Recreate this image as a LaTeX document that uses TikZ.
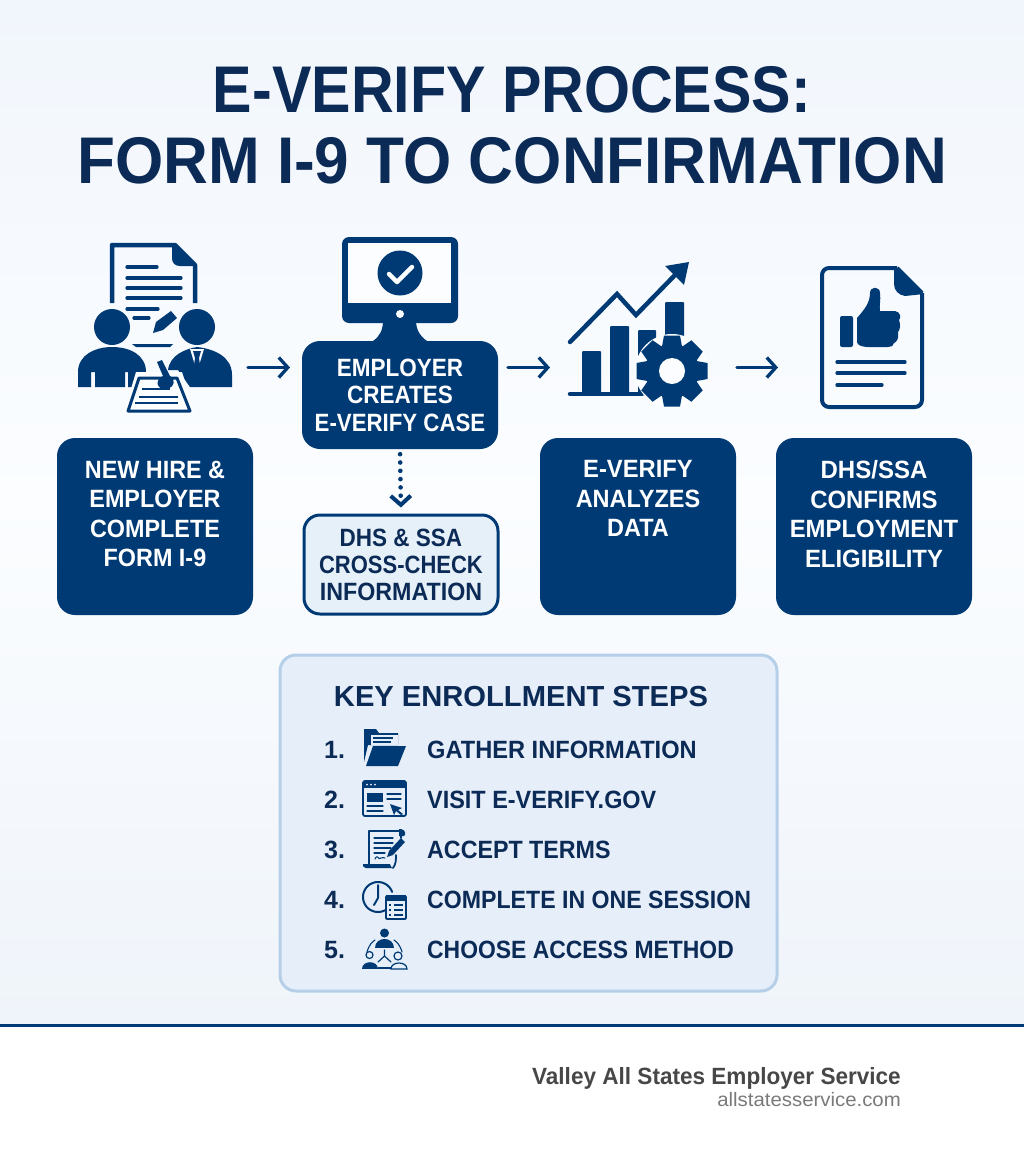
\documentclass[tikz,border=0pt]{standalone}
\usepackage{fontspec}
\setmainfont{Liberation Sans}
\usetikzlibrary{arrows.meta,calc}
\definecolor{navy}{HTML}{003A75}
\definecolor{ink}{HTML}{0B2A55}
\definecolor{bgA}{HTML}{F1F6FC}
\definecolor{bgB}{HTML}{FBFDFF}
\definecolor{bgC}{HTML}{EFF4FA}
\definecolor{panelfill}{HTML}{E5EEF9}
\definecolor{panelline}{HTML}{B5CFE8}
\definecolor{softfill}{HTML}{E6F0F9}
\newcommand{\fs}[2]{\fontsize{#1}{#2}\selectfont\bfseries}
\newcommand{\sx}[2]{\scalebox{#1}[1]{#2}}
\tikzset{
 darkbox/.style={fill=navy,rounded corners=18pt,minimum width=196pt,text=white,align=center,inner sep=0pt,font=\fs{25}{29.5}},
 flow/.style={navy,line width=3.3pt,line cap=round,-{Straight Barb[length=9pt,width=20pt,line width=3.3pt]}},
 stepnum/.style={anchor=west,text=ink,font=\fs{25}{30},inner sep=0pt},
 steptext/.style={anchor=west,text=ink,font=\fs{25}{30},inner sep=0pt},
 ln/.style={navy,line width=3.2pt,line cap=round},
 thin/.style={navy,line width=1.8pt,line cap=round,line join=round},
}
\begin{document}
\begin{tikzpicture}[x=1pt,y=-1pt]
\useasboundingbox (0,0) rectangle (1024,1154);
% background
\shade[top color=bgA,bottom color=bgB] (0,0) rectangle (1024,500);
\shade[top color=bgB,bottom color=bgC] (0,500) rectangle (1024,1026);
\fill[white] (0,1026) rectangle (1024,1154);
\fill[navy] (0,1024) rectangle (1024,1027);
% title
\node[text=ink,font=\fs{66}{71},align=center,inner sep=0pt] (title) at (512,125) {\sx{0.896}{E-VERIFY PROCESS:}\\\sx{0.94}{FORM I-9 TO CONFIRMATION}};
% boxes
\node[darkbox,minimum height=177pt] (b1) at (155,526.5) {\sx{.935}{NEW HIRE \&}\\\sx{.935}{EMPLOYER}\\\sx{.935}{COMPLETE}\\\sx{.935}{FORM I-9}\\[-4pt]};
\node[darkbox,minimum height=108pt,font=\fs{25}{27.5}] (b2) at (400,395) {\sx{.9}{EMPLOYER}\\\sx{.9}{CREATES}\\\sx{.89}{E-VERIFY CASE}};
\node[draw=navy,line width=3pt,fill=softfill,rounded corners=16pt,minimum width=194pt,minimum height=99pt,inner sep=0pt,align=center,text=ink,font=\fs{25}{27}] (b3) at (401,564.5) {\sx{.9}{DHS \& SSA}\\\sx{.88}{CROSS-CHECK}\\\sx{.93}{INFORMATION}};
\node[darkbox,minimum height=177pt] (b4) at (638,526.5) {\sx{.95}{E-VERIFY}\\\sx{.94}{ANALYZES}\\\sx{.94}{DATA}\\[26.5pt]};
\node[darkbox,minimum height=177pt] (b5) at (874,526.5) {\sx{.96}{DHS/SSA}\\\sx{.955}{CONFIRMS}\\\sx{.955}{EMPLOYMENT}\\\sx{.955}{ELIGIBILITY}\\[-4pt]};
% connectors
\coordinate (i1) at (248,367.5); \coordinate (i2) at (290,367.5);
\coordinate (i3) at (508,367.5); \coordinate (i4) at (550,367.5);
\coordinate (i5) at (737,367.5); \coordinate (i6) at (778,367.5);
\draw[flow] (i1) -- (i2);
\draw[flow] (i3) -- (i4);
\draw[flow] (i5) -- (i6);
\draw[navy,line width=4.6pt,line cap=round,dash pattern=on 0pt off 8.3pt,-{Straight Barb[length=9pt,width=20pt,line width=4pt]},shorten <=5pt,shorten >=6pt] (b2.south) -- (b3.north);
% icon 1
\draw[navy,line width=4.5pt,line join=round] (112,303) -- (112,245) -- (175,245) -- (195,265) -- (195,303);
\fill[navy] (172,243) -- (197,266) -- (180,266) .. controls (175,266) and (172,263) .. (172,258) -- cycle;
\foreach \yy/\xa/\xb in {267/127/157,278/127/181,288/127/181,298/127/181,309/127/158,318/134/149}{\draw[ln] (\xa,\yy) -- (\xb,\yy);}
\fill[navy] (153,333) -- (156,322) -- (171,311) -- (177,318) -- (163,330) -- cycle;
\fill[navy] (132,344) -- (173,344) -- (170,347) -- (136,347) -- cycle;
\fill[navy] (112,327) circle (18);
\fill[navy] (197,327) circle (18);
\fill[navy] (78,387) -- (78,372) .. controls (78,355) and (95,347) .. (112,347) .. controls (130,347) and (146,355) .. (146,372) -- (146,387) -- (128,387) -- (128,372) -- (125,372) -- (125,387) -- (95,387) -- (95,372) -- (91,372) -- (91,387) -- cycle;
\fill[navy] (168,370) .. controls (170,355) and (185,349) .. (197,347) .. controls (215,349) and (232,357) .. (232,375) -- (232,387) -- (190,387) -- (178,370) -- cycle;
\fill[bgB] (190,349) -- (204,349) -- (197,372) -- cycle;
\fill[navy] (193,351) -- (201,351) -- (199,358) -- (201,372) -- (197,375) -- (193,372) -- (195,358) -- cycle;
\fill[bgB] (124,412) -- (136,372) -- (182,372) -- (195,412) -- cycle;
\draw[navy,line width=3pt,line join=round] (128,411) -- (139,378) -- (177,378) -- (190,411) -- cycle;
\foreach \yy/\xa/\xb in {389/142/170,397/139/178,403/135/178}{\draw[navy,line width=2.4pt] (\xa,\yy) -- (\xb,\yy);}
\fill[navy] (157,362) -- (162,360) -- (170,376) .. controls (176,378) and (175,388) .. (166,389) .. controls (157,390) and (154,380) .. (163,376) -- cycle;
% icon 2
\fill[navy] (383,320) -- (416,320) .. controls (416,330) and (420,336) .. (427,341) -- (373,341) .. controls (380,336) and (383,330) .. (383,320) -- cycle;
\fill[navy,rounded corners=7pt] (342,237) rectangle (458,323);
\fill[bgB] (348,243) rectangle (451,303);
\fill[navy] (400,273) circle (22.5);
\draw[bgB,line width=4.5pt,line cap=round,line join=round] (389,274) -- (397,282) -- (412,267);
\fill[bgB] (400,314) circle (4);
% icon 3
\draw[navy,line width=4.5pt,line cap=round,line join=miter] (570,342) -- (617,294) -- (636,315) -- (676,274);
\fill[navy] (689,262) -- (684,285) -- (665,266) -- cycle;
\fill[navy,rounded corners=1pt] (582,351) rectangle (601,395);
\fill[navy,rounded corners=1pt] (610,326) rectangle (629,395);
\fill[navy,rounded corners=1pt] (638,330) rectangle (656,395);
\fill[navy,rounded corners=1pt] (665,302) rectangle (684,345);
\draw[navy,line width=4.5pt,line cap=round] (570,394) -- (642,394);
\coordinate (gc) at (672,371);
\fill[bgB] (gc) circle (37);
\foreach \a in {0,45,...,315}{
 \fill[navy,rotate around={\a:(gc)}] (664,335.5) -- (680,335.5) -- (683,352) -- (661,352) -- cycle;}
\fill[navy] (gc) circle (27);
\fill[bgB] (gc) circle (13);
% icon 4
\draw[navy,line width=4pt,line join=round,rounded corners=7pt] (897,268) -- (822,268) -- (822,407) -- (922,407) -- (922,293);
\draw[navy,line width=4pt,line join=round] (897,268) -- (922,293);
\fill[navy] (894,267) -- (924,294) -- (905,296) .. controls (899,295) and (894,291) .. (894,284) -- cycle;
\fill[navy,rounded corners=2pt] (840,316) rectangle (853,347);
\fill[navy] (857,318) .. controls (864,310) and (870,303) .. (870,293) .. controls (870,286) and (880,286) .. (880,293) .. controls (881,300) and (879,306) .. (880,311) -- (895,311) .. controls (901,312) and (901,318) .. (899,320) .. controls (901,325) and (900,330) .. (898,332) .. controls (899,338) and (897,342) .. (894,343) .. controls (894,346) and (891,347) .. (888,347) -- (868,347) .. controls (862,347) and (857,345) .. (857,342) -- cycle;
\foreach \yy/\xb in {362/905,373/905,385/882}{\draw[ln] (837,\yy) -- (\xb,\yy);}
% panel
\node[draw=panelline,line width=3pt,fill=panelfill,rounded corners=16pt,minimum width=497pt,minimum height=336pt,inner sep=0pt] (panel) at (528.5,823) {};
\node[text=ink,font=\fs{29}{34},inner sep=0pt] (ptitle) at (521,697) {\sx{1.005}{KEY ENROLLMENT STEPS}};
\foreach \n/\yy/\tt/\sc in {1/750/GATHER INFORMATION/.945,2/800/VISIT E-VERIFY.GOV/.937,3/850/ACCEPT TERMS/.93,4/900/COMPLETE IN ONE SESSION/.925,5/950/CHOOSE ACCESS METHOD/.916}{
 \node[stepnum] (n\n) at (324,\yy) {\n.};
 \node[steptext] (s\n) at (427,\yy) {\sx{\sc}{\tt}};
}
% small icon 1: folder
\fill[navy] (364,729) -- (376,729) -- (379,733) -- (398,733) -- (398,745) -- (368,745) -- (364,762) -- cycle;
\fill[panelfill] (371,735) rectangle (398,745);
\draw[navy,line width=1.3pt] (373,738) -- (393,738) (373,742) -- (391,742);
\fill[navy] (366,766) -- (373,746) -- (406,746) -- (398,766) -- cycle;
% small icon 2: browser
\draw[thin,rounded corners=2pt] (363,781) rectangle (406,816);
\fill[navy] (363,781) rectangle (406,788);
\foreach \xx in {367,371,375}{\fill[panelfill] (\xx,784.5) circle (1);}
\fill[navy] (367,793) rectangle (383,802);
\draw[thin,line width=1.3pt] (387,794) -- (401,794) (387,799) -- (401,799) (367,806) -- (383,806) (367,811) -- (383,811);
\fill[navy] (390,804) -- (402,808) -- (398,810) -- (403,814) -- (401,815) -- (396,811) -- (394,815) -- cycle;
% small icon 3: scroll
\draw[thin] (369,865) -- (369,831) -- (401,831) -- (401,838);
\fill[navy] (401,829) .. controls (406,830) and (406,835) .. (404,836) -- (399,836) -- (399,829) -- cycle;
\draw[thin,line width=1.3pt] (374,838) -- (393,838) (374,843) -- (393,843) (374,848) -- (391,848) (374,853) -- (385,853);
\draw[thin,line width=1.1pt] (375,859) .. controls (378,853) and (378,861) .. (381,858) .. controls (383,856) and (383,859) .. (385,858);
\fill[navy] (363,864) -- (390,864) .. controls (391,868) and (393,868) .. (393,868) -- (366,868) .. controls (363,868) and (363,866) .. (363,864) -- cycle;
\draw[thin] (393,868) .. controls (396,864) and (396,860) .. (396,855);
\fill[navy] (387,857) -- (389,851) -- (401,838) -- (405,842) -- (393,855) -- cycle;
% small icon 4: clock and calendar
\draw[navy,line width=2pt,line cap=round] plot[smooth,samples=40,domain=-20:-300] ({378+15*cos(\x)},{897+15*sin(\x)});
\draw[thin,line width=2pt] (378,885) -- (378,898) -- (374,905);
\draw[thin,fill=panelfill,rounded corners=1pt] (386,896) rectangle (406,919);
\fill[navy] (386,895) rectangle (406,901);
\foreach \yy in {905,910,915}{\draw[navy,line width=1.2pt] (389,\yy) -- (391,\yy) (394,\yy) -- (403,\yy);}
% small icon 5: people
\fill[navy] (384.5,933) circle (4.5);
\fill[navy] (375,948) .. controls (375,936) and (394,936) .. (394,948) -- cycle;
\draw[thin,line width=1.1pt] (367,952) .. controls (369,945) and (372,942) .. (375,940) (402,952) .. controls (400,945) and (397,942) .. (394,940);
\draw[thin,line width=1.2pt] (384.5,950) -- (384.5,956) -- (378,962) (384.5,956) -- (391,962);
\draw[navy,line width=1.2pt] (369.5,955) circle (3.5);
\fill[navy] (362,969) .. controls (362,960) and (378,960) .. (378,969) -- cycle;
\draw[navy,line width=1.2pt] (398,956) circle (4);
\draw[navy,line width=1.2pt] (391,969) .. controls (391,961) and (407,961) .. (407,969) -- cycle;
\draw[navy,line width=1.1pt] (378,968) -- (391,968);
% footer
\node[anchor=east,text=black!72,font=\fs{23.5}{28},inner sep=0pt] (f1) at (901,1078) {\sx{.96}{Valley All States Employer Service}};
\node[anchor=east,text=black!52,font=\fontsize{19.5}{24}\selectfont,inner sep=0pt] (f2) at (901,1100) {\sx{1.045}{allstatesservice.com}};
\end{tikzpicture}
\end{document}
